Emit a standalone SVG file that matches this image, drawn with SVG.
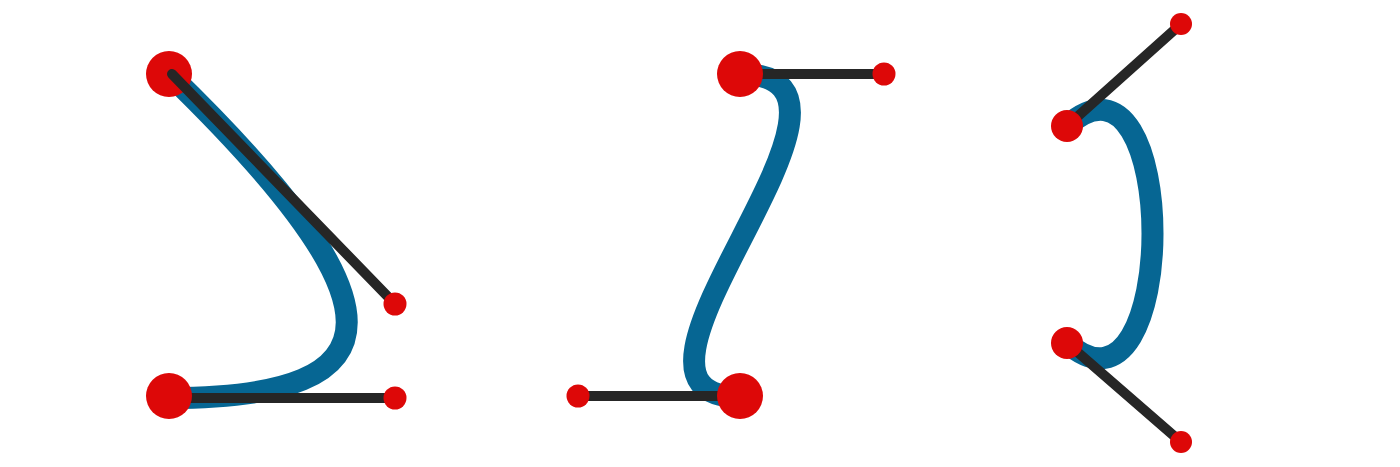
<svg xmlns="http://www.w3.org/2000/svg" width="1400" height="467" viewBox="0 0 1400 467">
<style>
.curve{fill:none;stroke:#066693;stroke-width:22}
.handle{fill:none;stroke:#262626;stroke-width:10;stroke-linecap:round}
.pt{fill:#DD0808}
</style>
<rect width="1400" height="467" fill="#ffffff"/>
<g id="connectors">
<path class="curve" d="M169,74 C406,304 406,398 169,398"/>
<path class="curve" d="M740,74 C910,74 578,397 740,397"/>
<path class="curve" d="M1067,126 C1181,24 1181,442 1067,343"/>
</g>
<g id="curve1">
<circle class="pt" cx="169" cy="74" r="23"/>
<line class="handle" x1="172" y1="74" x2="395" y2="304"/>
<line class="handle" x1="169" y1="398" x2="395" y2="398"/>
<circle class="pt" cx="395" cy="304" r="11.5"/>
<circle class="pt" cx="395" cy="398" r="11.5"/>
<circle class="pt" cx="169" cy="396" r="23"/>
</g>
<g id="curve2">
<line class="handle" x1="740" y1="74" x2="884" y2="74"/>
<line class="handle" x1="740" y1="396" x2="578" y2="396"/>
<circle class="pt" cx="884" cy="74" r="11.5"/>
<circle class="pt" cx="578" cy="396" r="11.5"/>
<circle class="pt" cx="740" cy="74" r="23"/>
<circle class="pt" cx="740" cy="396" r="23"/>
</g>
<g id="curve3">
<line class="handle" x1="1067" y1="126" x2="1181" y2="24"/>
<line class="handle" x1="1067" y1="343" x2="1181" y2="442"/>
<circle class="pt" cx="1181" cy="24" r="11"/>
<circle class="pt" cx="1181" cy="442" r="11"/>
<circle class="pt" cx="1067" cy="126" r="16"/>
<circle class="pt" cx="1067" cy="343" r="16"/>
</g>
</svg>
